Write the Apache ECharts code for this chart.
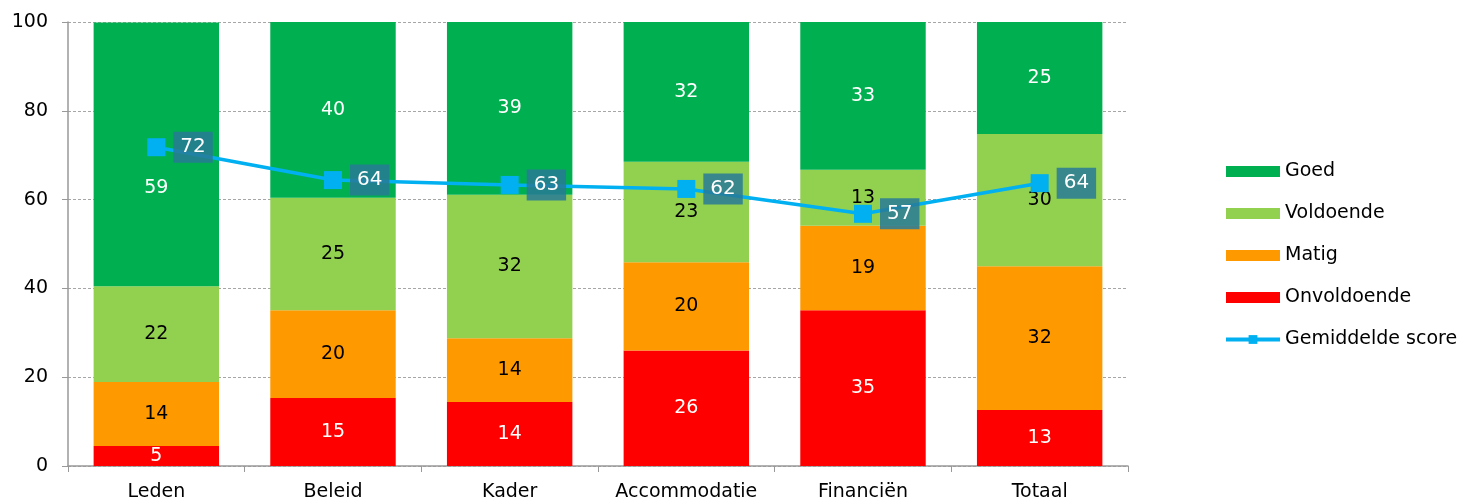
<!DOCTYPE html>
<html>
<head>
<meta charset="utf-8">
<script src="https://cdn.jsdelivr.net/npm/echarts@6/dist/echarts.min.js"></script>
<style>
  html, body { margin: 0; padding: 0; background: #fff; }
  #chart { width: 1464px; height: 502px; }
</style>
</head>
<body>
<div id="chart"></div>
<script>
const categories = ['Leden', 'Beleid', 'Kader', 'Accommodatie', 'Financiën', 'Totaal']
const onvoldoende = [4.5, 15.3, 14.4, 26.0, 35.1, 12.6]
const matig = [14.4, 19.8, 14.4, 19.9, 19.0, 32.4]
const voldoende = [21.6, 25.3, 32.3, 22.6, 12.6, 29.8]
const goed = [59.4, 39.6, 38.9, 31.5, 33.3, 25.2]
const gemiddelde = [71.8, 64.4, 63.3, 62.4, 56.8, 63.7]
const yTicks = { min: 0, max: 100, interval: 20 }

const font = 'DejaVu Sans'

const barLabel = (color) => ({
  show: true,
  position: 'inside',
  color: color,
  fontFamily: font,
  fontSize: 19,
  formatter: (p) => Math.round(p.value),
})

const barSeries = (name, data, color, labelColor) => ({
  name: name,
  type: 'bar',
  stack: 'total',
  data: data,
  barWidth: '71%',
  itemStyle: { color: color },
  label: barLabel(labelColor),
  z: 2,
})

const myChart = echarts.init(document.getElementById('chart'))

// label of Leden/Goed sits lower in the original, out of the way of the line
const goedSeries = barSeries('Goed', goed, '#00b050', '#fff')
goedSeries.data = goed.map((v, i) => (i === 0 ? { value: v, label: { offset: [0, 34] } } : v))

const option = {
  animation: false,
  textStyle: { fontFamily: font },
  grid: { left: 68, right: 336, top: 22, bottom: 36 },
  legend: {
    orient: 'vertical',
    left: 1219,
    top: 157,
    itemWidth: 54,
    itemHeight: 11,
    itemGap: 23,
    textStyle: { fontFamily: font, fontSize: 19, color: '#000' },
    data: [
      { name: 'Goed', icon: 'rect' },
      { name: 'Voldoende', icon: 'rect' },
      { name: 'Matig', icon: 'rect' },
      { name: 'Onvoldoende', icon: 'rect' },
      { name: 'Gemiddelde score', lineStyle: { width: 4 } },
    ],
  },
  xAxis: {
    type: 'category',
    data: categories,
    axisLine: { lineStyle: { color: '#999', width: 1.5 } },
    axisTick: { show: true, interval: 0, length: 6, lineStyle: { color: '#999' } },
    axisLabel: { interval: 0, color: '#000', fontFamily: font, fontSize: 19, margin: 17 },
  },
  yAxis: {
    type: 'value',
    min: yTicks.min,
    max: yTicks.max,
    interval: yTicks.interval,
    axisLine: { show: true, lineStyle: { color: '#999', width: 1.5 } },
    axisTick: { show: true, length: 6, lineStyle: { color: '#999' } },
    axisLabel: { color: '#000', fontFamily: font, fontSize: 19, margin: 20 },
    splitLine: { lineStyle: { color: '#a6a6a6', type: [3, 2] } },
  },
  series: [
    barSeries('Onvoldoende', onvoldoende, '#ff0000', '#fff'),
    barSeries('Matig', matig, '#ff9900', '#000'),
    barSeries('Voldoende', voldoende, '#92d050', '#000'),
    goedSeries,
    {
      name: 'Gemiddelde score',
      type: 'line',
      data: gemiddelde,
      symbol: 'rect',
      symbolSize: 18,
      lineStyle: { color: '#00b0f0', width: 3.5 },
      itemStyle: { color: '#00b0f0' },
      z: 5,
      label: {
        show: true,
        position: 'right',
        distance: 8,
        color: '#fff',
        fontFamily: font,
        fontSize: 20,
        backgroundColor: 'rgba(40, 122, 150, 0.85)',
        padding: [6, 7, 5, 7],
        formatter: (p) => Math.round(p.value),
      },
    },
  ],
}

myChart.setOption(option)
</script>
</body>
</html>
